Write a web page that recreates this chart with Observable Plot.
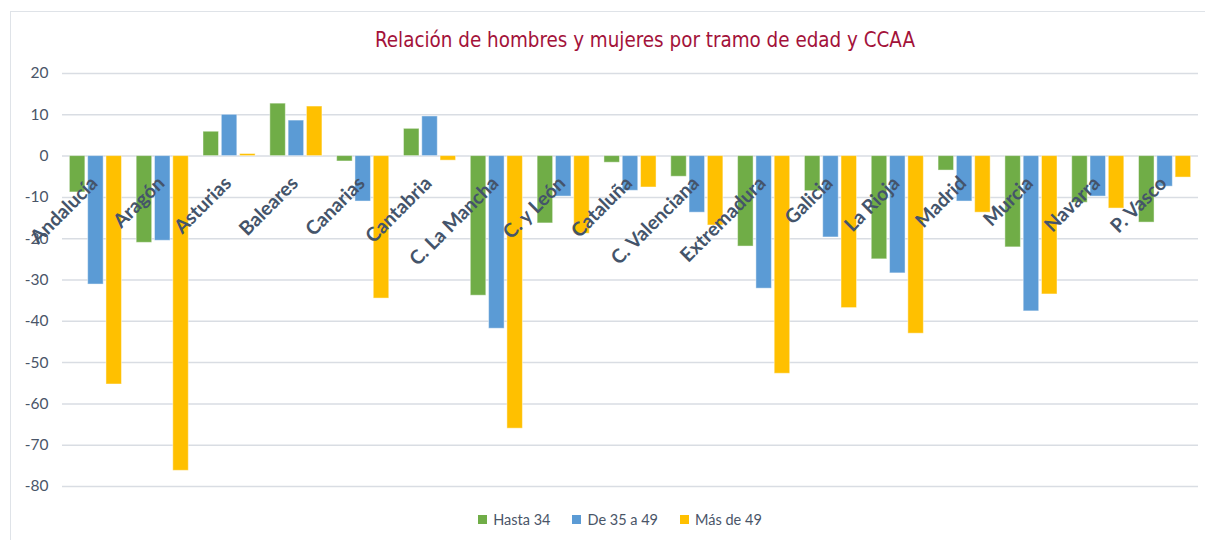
<!DOCTYPE html>
<html>
<head>
<meta charset="utf-8">
<script src="https://cdn.jsdelivr.net/npm/d3@7"></script>
<script src="https://cdn.jsdelivr.net/npm/@observablehq/plot@0.6"></script>
<style>
  html, body { margin: 0; padding: 0; background: #fff; }
  #wrap { position: relative; width: 1205px; height: 540px; overflow: hidden; font-family: Lato, "Open Sans", sans-serif; }
  #frame { position: absolute; left: 10px; top: 11px; width: 1200px; height: 540px; border-left: 1.5px solid #dfe3e8; border-top: 1.5px solid #dfe3e8; }
  #title { position: absolute; left: 0; top: 28px; width: 1290px; text-align: center; font-family: "DejaVu Sans Condensed", "Open Sans", sans-serif; font-size: 20.4px; color: #a3123a; }
  #chart { position: absolute; left: 0; top: 60px; }
  #legend { position: absolute; left: 0; top: 511px; width: 1240px; display: flex; justify-content: center; gap: 22px; font-size: 14.5px; color: #4a5568; }
  .item { display: flex; align-items: center; gap: 6px; }
  .sw { width: 9px; height: 9px; display: inline-block; }
</style>
</head>
<body>
<div id="wrap">
  <div id="frame"></div>
  <div id="title">Relación de hombres y mujeres por tramo de edad y CCAA</div>
  <div id="chart"></div>
  <div id="legend"></div>
</div>
<script>
const categories = ["Andalucía","Aragón","Asturias","Baleares","Canarias","Cantabria","C. La Mancha","C. y León","Cataluña","C. Valenciana","Extremadura","Galicia","La Rioja","Madrid","Murcia","Navarra","P. Vasco"];
const series = ["Hasta 34","De 35 a 49","Más de 49"];
const hasta34 = [-8.8,-21.0,5.9,12.7,-1.3,6.6,-33.8,-16.3,-1.6,-5.0,-21.9,-8.5,-25.0,-3.5,-22.1,-11.3,-16.1];
const de35a49 = [-31.1,-20.5,10.0,8.6,-11.0,9.6,-41.8,-9.8,-8.4,-13.7,-32.1,-19.7,-28.4,-11.0,-37.6,-9.8,-7.4];
const masDe49 = [-55.3,-76.2,0.5,12.0,-34.5,-1.1,-66.0,-18.8,-7.6,-16.8,-52.7,-36.8,-43.0,-13.7,-33.5,-12.7,-5.2];
const colors = ["#70ad47","#5b9bd5","#ffc000"];
const yTicks = [20,10,0,-10,-20,-30,-40,-50,-60,-70,-80];

const valuesBySeries = [hasta34, de35a49, masDe49];

// layout (styles only)
const W = 1205, mL = 62, mR = 7;
const step = (W - mL - mR) / categories.length;
const barW = 15.5, gap = 2.8;
const groupW = 3 * barW + 2 * gap;
const start0 = (step - groupW) / 2;

const barMarks = series.map((s, j) => {
  const left = start0 + j * (barW + gap);
  const right = step - left - barW;
  const rows = categories.map((c, i) => ({cat: c, serie: s, value: valuesBySeries[j][i]}));
  return Plot.barY(rows, {x: "cat", y: "value", fill: colors[j], insetLeft: left, insetRight: right, stroke: "#ffffff", strokeOpacity: 0.45, strokeWidth: 1});
});

const chart = Plot.plot({
  width: W,
  height: 450,
  marginLeft: mL,
  marginRight: mR,
  marginTop: 13,
  marginBottom: 24,
  style: {fontFamily: "Lato, 'Open Sans', sans-serif", background: "transparent"},
  x: {domain: categories, padding: 0, round: false, axis: null},
  y: {domain: [-80, 20], label: null},
  marks: [
    Plot.gridY(yTicks, {stroke: "#d9dde3", strokeOpacity: 1, strokeWidth: 1.5}),
    Plot.axisY(yTicks, {tickSize: 0, tickPadding: 14, fontSize: 15.5, fill: "#4a5568", tickFormat: d => String(d)}),
    ...barMarks,
    Plot.text(categories, {x: d => d, y: () => 0, text: d => d, rotate: -45, textAnchor: "end", dx: -1.5, dy: 24, fontSize: 19.5, fontWeight: 700, fill: "#44546a"})
  ]
});
document.getElementById("chart").appendChild(chart);

const legend = document.getElementById("legend");
series.forEach((s, j) => {
  const it = document.createElement("div");
  it.className = "item";
  const sw = document.createElement("span");
  sw.className = "sw";
  sw.style.background = colors[j];
  const tx = document.createElement("span");
  tx.textContent = s;
  it.appendChild(sw); it.appendChild(tx);
  legend.appendChild(it);
});
</script>
</body>
</html>
